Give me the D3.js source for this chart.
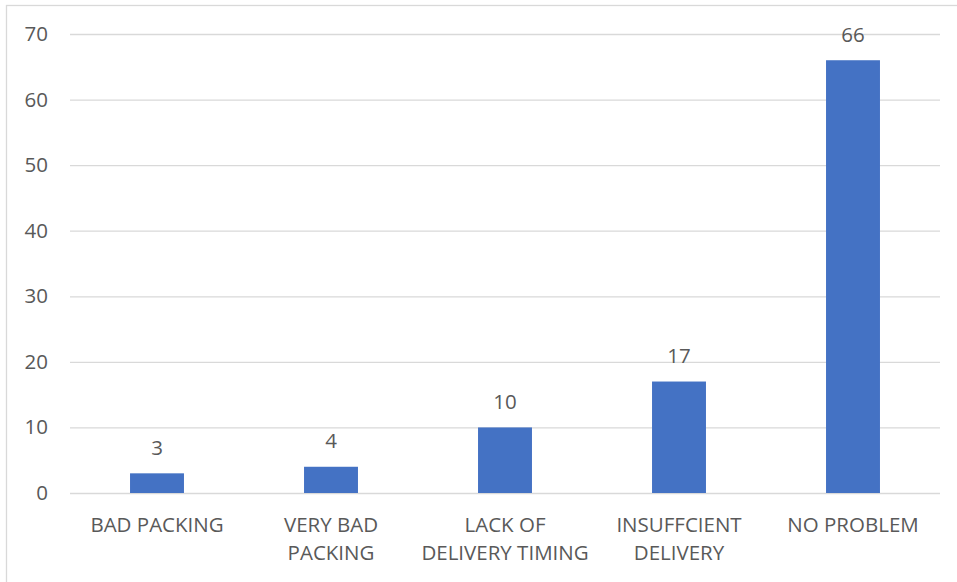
<!DOCTYPE html>
<html>
<head>
<meta charset="utf-8">
<script src="https://cdn.jsdelivr.net/npm/d3@7"></script>
<style>
  html, body { margin: 0; padding: 0; background: #fff; }
  svg { display: block; }
  text { font-family: "Open Sans", "Liberation Sans", sans-serif; fill: #595959; }
</style>
</head>
<body>
<svg id="chart" width="957" height="582"></svg>
<script>
// Delivery problem counts
const categories = [
  ["BAD PACKING"],
  ["VERY BAD", "PACKING"],
  ["LACK OF", "DELIVERY TIMING"],
  ["INSUFFCIENT", "DELIVERY"],
  ["NO PROBLEM"]
];
const values = [3, 4, 10, 17, 66];
const yTicks = [0, 10, 20, 30, 40, 50, 60, 70];

const W = 957, H = 582;
const margin = { left: 70, right: 17, top: 34, bottom: 89 };
const FS = 20.5;
const svg = d3.select("#chart");

// outer chart frame
svg.append("rect")
  .attr("x", 6.5).attr("y", 5.5)
  .attr("width", W + 10).attr("height", H + 10)
  .attr("fill", "none").attr("stroke", "#d9d9d9").attr("stroke-width", 1.3);

const x = d3.scaleBand()
  .domain(d3.range(categories.length))
  .range([margin.left, W - margin.right])
  .paddingInner(0.69).paddingOuter(0.345);

const y = d3.scaleLinear()
  .domain([0, 70])
  .range([H - margin.bottom, margin.top]);

// horizontal gridlines
const yAxis = d3.axisLeft(y).tickValues(yTicks).tickSize(-(W - margin.right - margin.left)).tickPadding(22);
const gy = svg.append("g").attr("transform", `translate(${margin.left},0)`).call(yAxis);
gy.select(".domain").remove();
gy.selectAll(".tick line").attr("stroke", "#d9d9d9").attr("stroke-width", 1.3);
gy.selectAll(".tick text").attr("font-size", FS).attr("fill", "#595959")
  .style("font-family", "'Open Sans', sans-serif");

// bars
svg.append("g").selectAll("rect")
  .data(values)
  .join("rect")
  .attr("x", (d, i) => x(i))
  .attr("width", x.bandwidth())
  .attr("y", d => y(d))
  .attr("height", d => y(0) - y(d))
  .attr("fill", "#4472c4");

// value labels
svg.append("g").selectAll("text")
  .data(values)
  .join("text")
  .attr("x", (d, i) => x(i) + x.bandwidth() / 2)
  .attr("y", d => y(d) - 18.5)
  .attr("text-anchor", "middle")
  .attr("font-size", FS)
  .text(d => d);

// category labels
const cat = svg.append("g").selectAll("text")
  .data(categories)
  .join("text")
  .attr("text-anchor", "middle")
  .attr("font-size", FS)
  .attr("transform", (d, i) => `translate(${x(i) + x.bandwidth() / 2},${y(0) + 38.5})`);
cat.selectAll("tspan")
  .data(d => d)
  .join("tspan")
  .attr("x", 0)
  .attr("dy", (d, j) => j === 0 ? 0 : 28.5)
  .text(d => d);
</script>
</body>
</html>
